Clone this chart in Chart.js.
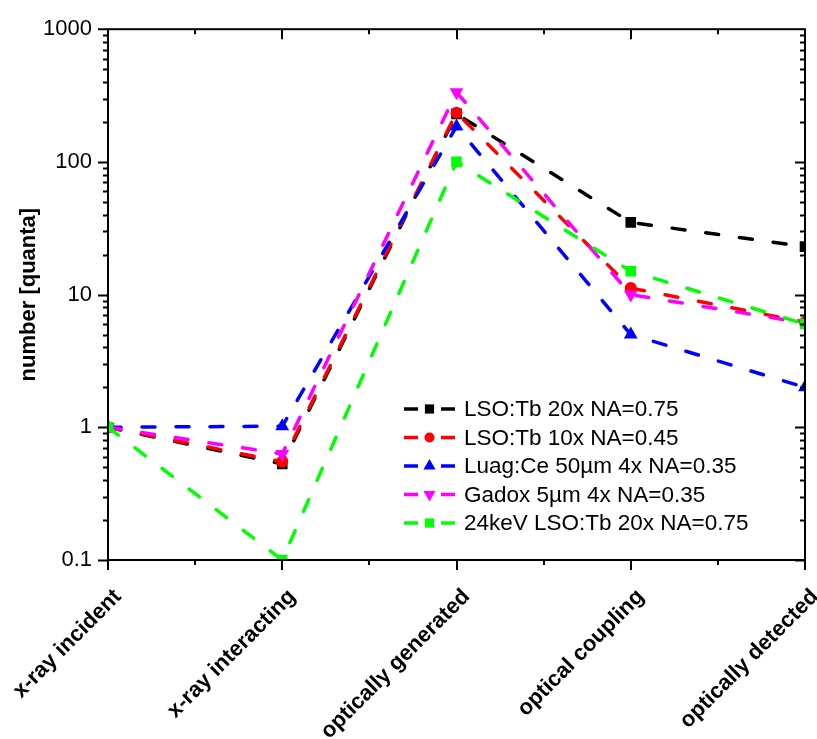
<!DOCTYPE html>
<html>
<head>
<meta charset="utf-8">
<script src="https://cdn.jsdelivr.net/npm/chart.js@4.4.1/dist/chart.umd.min.js"></script>
<style>
  html, body { margin: 0; padding: 0; background: #fff; }
  #wrap { width: 817px; height: 739px; }
</style>
</head>
<body>
<div id="wrap"><canvas id="c" width="817" height="739"></canvas></div>
<script>
// stages along the x axis
const stages = ['x-ray incident', 'x-ray interacting', 'optically generated', 'optical coupling', 'optically detected'];
const yTicks = [0.1, 1, 10, 100, 1000];

// quanta per stage
const lsoTb20 = [1, 0.53, 230, 35, 23];
const lsoTb10 = [1, 0.55, 235, 11.2, 6.2];
const luagCe = [1, 1.02, 185, 5, 2];
const gadox = [1, 0.63, 335, 10, 6.1];
const lso24keV = [1, 0.1, 100, 15, 6];

const seriesNames = ['LSO:Tb 20x NA=0.75', 'LSO:Tb 10x NA=0.45', 'Luag:Ce 50\u00b5m 4x NA=0.35', 'Gadox 5\u00b5m 4x NA=0.35', '24keV LSO:Tb 20x NA=0.75'];
const seriesValues = [lsoTb20, lsoTb10, luagCe, gadox, lso24keV];
const colors = ['#000000', '#ff0000', '#0000ff', '#ff00ff', '#00ff00'];
const markers = ['rect', 'circle', 'triangle', 'triangle', 'rect'];
const markerRot = [0, 0, 0, 180, 0];
const markerSize = [7.5, 6, 8, 8, 7.5];

const FONT = '"Liberation Sans", Arial, Helvetica, sans-serif';

// frame + tick marks + legend, drawn on top of the plot
const framePlugin = {
  id: 'frame',
  afterDraw(chart) {
    const ctx = chart.ctx;
    const a = chart.chartArea;
    const xs = chart.scales.x, ys = chart.scales.y;
    ctx.save();
    ctx.strokeStyle = '#000';
    ctx.lineWidth = 2;
    ctx.strokeRect(a.left, a.top, a.right - a.left, a.bottom - a.top);

    ctx.beginPath();
    // y ticks: outward on the left, inward on the right
    const lo = Math.log10(ys.min), hi = Math.log10(ys.max);
    for (let e = Math.floor(lo); e < hi; e++) {
      for (let m = 1; m <= 9; m++) {
        const v = m * Math.pow(10, e);
        if (v < ys.min * 0.999 || v > ys.max * 1.001) continue;
        const py = Math.round(ys.getPixelForValue(v)) + 0.5;
        const len = m === 1 ? 10 : 5;
        ctx.moveTo(a.left, py); ctx.lineTo(a.left - len, py);
        ctx.moveTo(a.right, py); ctx.lineTo(a.right - len, py);
      }
    }
    const top = ys.getPixelForValue(ys.max);
    ctx.moveTo(a.left, top); ctx.lineTo(a.left - 10, top);
    // x ticks: outward at the bottom, inward at the top
    for (let i = 0; i < stages.length; i++) {
      const px = Math.round(xs.getPixelForValue(i));
      ctx.moveTo(px, a.bottom); ctx.lineTo(px, a.bottom + 10);
      ctx.moveTo(px, a.top); ctx.lineTo(px, a.top + 10);
      if (i < stages.length - 1) {
        const mx = Math.round(xs.getPixelForValue(i + 0.5));
        ctx.moveTo(mx, a.bottom); ctx.lineTo(mx, a.bottom + 5);
        ctx.moveTo(mx, a.top); ctx.lineTo(mx, a.top + 5);
      }
    }
    ctx.stroke();

    // legend
    ctx.font = '22.5px ' + FONT;
    ctx.textBaseline = 'middle';
    ctx.textAlign = 'left';
    seriesNames.forEach((name, i) => {
      const y = 409 + i * 28.5;
      ctx.strokeStyle = colors[i];
      ctx.fillStyle = colors[i];
      ctx.lineWidth = 3.5;
      ctx.beginPath();
      ctx.moveTo(404, y); ctx.lineTo(418, y);
      ctx.moveTo(441, y); ctx.lineTo(455, y);
      ctx.stroke();
      Chart.helpers.drawPoint(ctx, {
        pointStyle: markers[i], radius: markerSize[i] - 1, rotation: markerRot[i], borderWidth: 0
      }, 429.5, y);
      ctx.fillStyle = '#000';
      ctx.fillText(name, 464, y + 1);
    });
    ctx.restore();
  }
};

const datasets = seriesValues.map((vals, i) => ({
  label: seriesNames[i],
  data: vals,
  borderColor: colors[i],
  backgroundColor: colors[i],
  borderWidth: 3.5,
  borderDash: [13, 21],
  borderCapStyle: 'round',
  pointStyle: markers[i],
  pointRotation: markerRot[i],
  pointRadius: markerSize[i],
  pointBorderWidth: 0,
  tension: 0,
  clip: 0,
  order: seriesValues.length - i
}));

new Chart(document.getElementById('c'), {
  type: 'line',
  data: { labels: stages, datasets },
  options: {
    responsive: false,
    animation: false,
    layout: { padding: { top: 24, right: 12, left: 0, bottom: 0 } },
    plugins: { legend: { display: false }, tooltip: { enabled: false } },
    scales: {
      x: {
        type: 'category',
        offset: false,
        grid: { display: false, drawTicks: false },
        border: { display: false },
        ticks: {
          autoSkip: false, maxRotation: 45, minRotation: 45, padding: 24, labelOffset: 10,
          color: '#000', font: { family: FONT, size: 22, weight: 'bold' }
        },
        afterFit(s) { s.height = 179; s.paddingLeft = 0; s.paddingRight = 0; }
      },
      y: {
        type: 'logarithmic',
        min: 0.1, max: 1000,
        grid: { display: false, drawTicks: false },
        border: { display: false },
        afterBuildTicks(s) { s.ticks = yTicks.map(v => ({ value: v })); },
        ticks: {
          autoSkip: false, padding: 16, color: '#000',
          font: { family: FONT, size: 22 },
          callback: v => String(Number(Number(v).toPrecision(1)))
        },
        title: {
          display: true, text: 'number [quanta]', color: '#000',
          font: { family: FONT, size: 22, weight: 'bold' },
          padding: { top: 16, bottom: 0 }
        },
        afterFit(s) { s.width = 108; }
      }
    }
  },
  plugins: [framePlugin]
});
</script>
</body>
</html>
